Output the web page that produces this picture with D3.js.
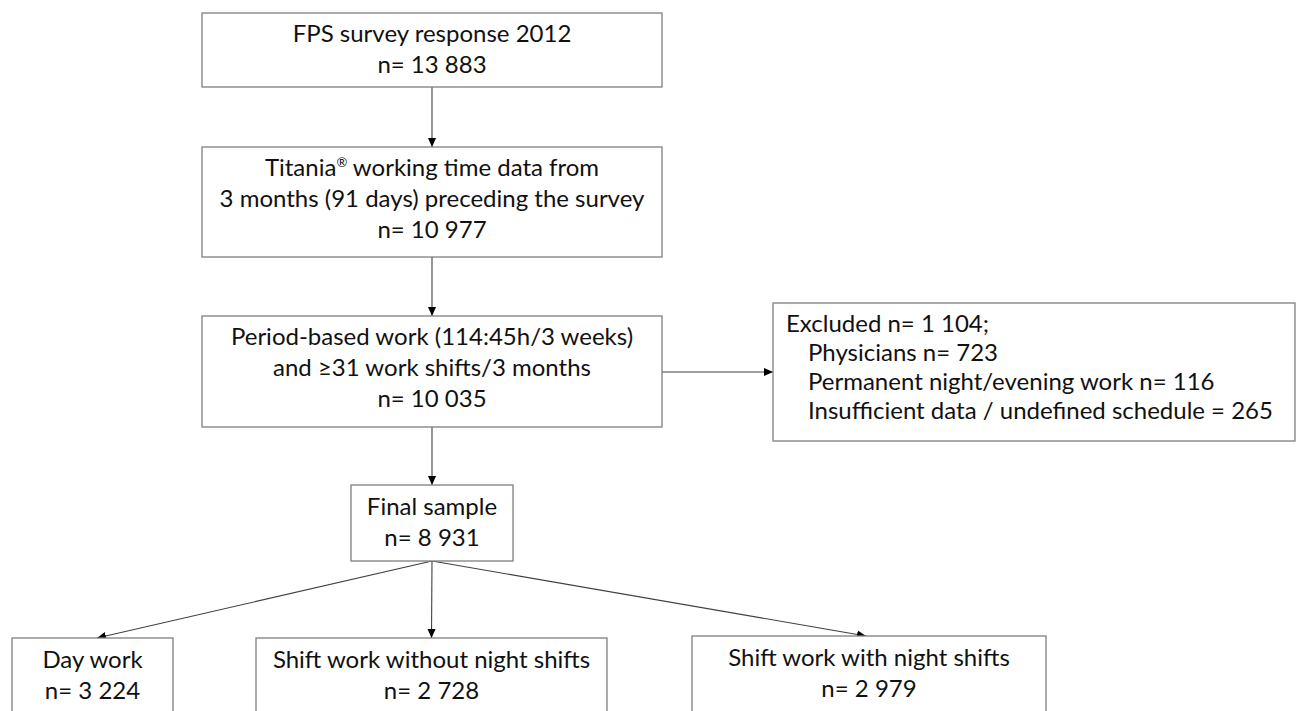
<!doctype html>
<html lang="en">
<head>
<meta charset="utf-8">
<script src="https://d3js.org/d3.v7.min.js"></script>
<title>FPS flow chart</title>
<style>
  body { margin: 0; background: #fff; }
  svg { display: block; }
  .box { fill: #fff; stroke: #7f7f7f; stroke-width: 1.3; }
  .link { stroke: #404040; stroke-width: 1.1; fill: none; }
  .label { font-family: Lato, "Open Sans", sans-serif; font-size: 24px; fill: #111; }
  .sup { font-size: 13px; }
</style>
</head>
<body>
<div id="chart"></div>
<script>
// flow chart content
const stepTitles = [
  ["FPS survey response 2012"],
  ["Titania\u00ae working time data from", "3 months (91 days) preceding the survey"],
  ["Period-based work (114:45h/3 weeks)", "and \u226531 work shifts/3 months"],
  ["Final sample"]
];
const stepCounts = ["13 883", "10 977", "10 035", "8 931"];

const excludedTitle = "Excluded n= 1 104;";
const excludedItems = [
  "Physicians n= 723",
  "Permanent night/evening work n= 116",
  "Insufficient data / undefined schedule = 265"
];

const groupTitles = ["Day work", "Shift work without night shifts", "Shift work with night shifts"];
const groupCounts = ["3 224", "2 728", "2 979"];

// geometry (kept apart from the content)
const width = 1300, height = 711;
const lineH = 31;
const stepBoxes = [
  {x0: 202, x1: 662, y0: 13,  y1: 87},
  {x0: 202, x1: 662, y0: 147, y1: 257},
  {x0: 202, x1: 662, y0: 316, y1: 427},
  {x0: 351, x1: 513, y0: 485, y1: 561}
];
const excludedBox = {x0: 773, x1: 1295, y0: 303, y1: 441};
const groupBoxes = [
  {x0: 12,  x1: 173,  y0: 638, y1: 740},
  {x0: 256, x1: 607,  y0: 638, y1: 740},
  {x0: 692, x1: 1046, y0: 636, y1: 740}
];

const svg = d3.select('#chart')
  .append('svg')
  .attr('width', width)
  .attr('height', height);

svg.append('defs').append('marker')
  .attr('id', 'arrow')
  .attr('viewBox', '0 0 10 10')
  .attr('refX', 10)
  .attr('refY', 5)
  .attr('markerUnits', 'userSpaceOnUse')
  .attr('markerWidth', 9)
  .attr('markerHeight', 9)
  .attr('orient', 'auto')
  .append('path')
  .attr('d', 'M0,0.5 L10,5 L0,9.5 Z')
  .attr('fill', '#000');

const cx = b => (b.x0 + b.x1) / 2;

// links
const links = [];
for (let i = 0; i < stepBoxes.length - 1; i++) {
  links.push([[cx(stepBoxes[i]), stepBoxes[i].y1], [cx(stepBoxes[i]), stepBoxes[i + 1].y0]]);
}
const midY = (stepBoxes[2].y0 + stepBoxes[2].y1) / 2 + 0.5;
links.push([[stepBoxes[2].x1, midY], [excludedBox.x0, midY]]);
const fin = stepBoxes[3];
const tipX = [97, cx(groupBoxes[1]), 866];
groupBoxes.forEach((b, i) => links.push([[cx(fin), fin.y1], [tipX[i], b.y0]]));

svg.selectAll('line.link')
  .data(links)
  .join('line')
  .attr('class', 'link')
  .attr('x1', d => d[0][0])
  .attr('y1', d => d[0][1])
  .attr('x2', d => d[1][0])
  .attr('y2', d => d[1][1])
  .attr('marker-end', 'url(#arrow)');

function drawBox(b) {
  const g = svg.append('g');
  g.append('rect')
    .attr('class', 'box')
    .attr('x', b.x0).attr('y', b.y0)
    .attr('width', b.x1 - b.x0).attr('height', b.y1 - b.y0);
  return g;
}

// writes a line, with the registered mark set small and raised
function fillLine(t, str) {
  const parts = str.split('\u00ae');
  parts.forEach((p, i) => {
    if (i > 0) {
      t.append('tspan').attr('class', 'sup').attr('dy', -9).text('\u00ae');
      t.append('tspan').attr('dy', 9).text(p);
    } else {
      t.append('tspan').text(p);
    }
  });
}

function centredText(g, b, lines, firstBaseline) {
  g.selectAll('text')
    .data(lines)
    .join('text')
    .attr('class', 'label')
    .attr('text-anchor', 'middle')
    .attr('x', cx(b))
    .attr('y', (d, i) => firstBaseline + i * lineH)
    .each(function(d) { fillLine(d3.select(this), d); });
}

const stepBaselines = [42, 176, 345, 515];
stepBoxes.forEach((b, i) => {
  const g = drawBox(b);
  centredText(g, b, stepTitles[i].concat('n= ' + stepCounts[i]), stepBaselines[i]);
});

// excluded box, left aligned
const ge = drawBox(excludedBox);
ge.selectAll('text')
  .data([excludedTitle].concat(excludedItems))
  .join('text')
  .attr('class', 'label')
  .attr('x', (d, i) => i === 0 ? 786 : 808)
  .attr('y', (d, i) => 332 + i * 29)
  .text(d => d);

const groupBaselines = [668, 668, 666];
groupBoxes.forEach((b, i) => {
  const g = drawBox(b);
  centredText(g, b, [groupTitles[i], 'n= ' + groupCounts[i]], groupBaselines[i]);
});
</script>
</body>
</html>
